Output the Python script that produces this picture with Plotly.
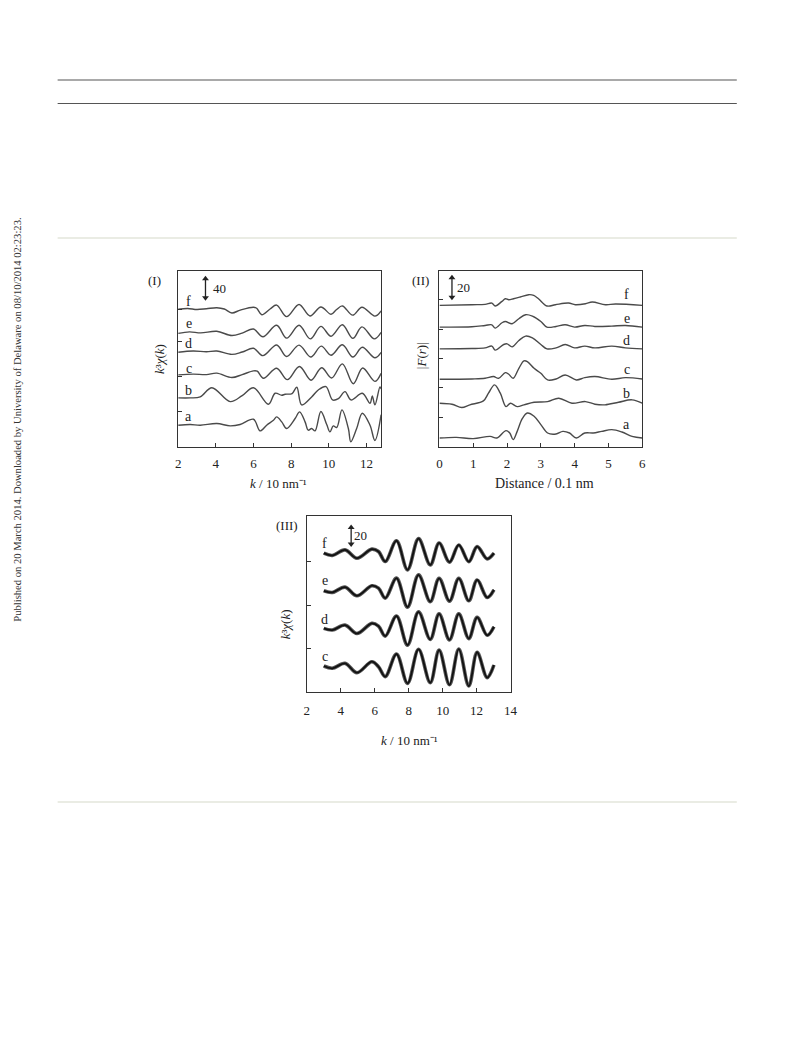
import plotly.graph_objects as go

SERIF = "Liberation Serif"

# ---------------- Panel (I): k^3 chi(k) vs k (offset curves) ----------------
I_f_k = [2.0, 2.5, 3.0, 3.5, 4.05, 4.45, 4.85, 5.3, 6.0, 6.17, 6.44, 6.88, 7.23, 7.76, 8.42, 9.0, 9.58, 10.12, 10.4, 10.72, 11.27, 11.76, 12.45, 12.78]
I_f_y = [0, 1.5, -0.5, 1.0, 3.0, 0.5, -7.0, -1.5, 4.0, 2.0, -10.5, 0.5, 8.0, -14.0, 9.2, -12.7, 4.5, -9.5, -1.0, 6.4, -11.2, 4.0, -13.0, -3.0]
I_e_k = [2.0, 2.6, 3.2, 4.05, 4.85, 5.4, 6.0, 6.5, 7.23, 7.76, 8.42, 9.02, 9.58, 10.12, 10.72, 11.28, 11.76, 12.42, 12.78]
I_e_y = [0, 3.0, 1.0, 4.0, -4.0, 0.5, 8.3, -6.5, 15.5, -9.0, 15.5, -10.5, 13.5, -5.5, 16.5, -9.5, 12.5, -10.5, 2.0]
I_d_k = [2.0, 2.8, 3.5, 4.05, 4.85, 5.4, 6.0, 6.5, 7.23, 7.76, 8.42, 9.04, 9.6, 10.12, 10.72, 11.28, 11.78, 12.45, 12.78]
I_d_y = [0, 2.5, 1.0, 2.5, -4.0, 0.5, 7.6, -6.4, 14.0, -8.0, 13.7, -9.0, 11.7, -5.5, 14.3, -9.0, 9.5, -10.5, 0]
I_c_k = [2.0, 2.8, 3.5, 4.05, 4.85, 5.4, 6.0, 6.2, 6.53, 7.23, 7.8, 8.44, 9.06, 9.62, 10.15, 10.72, 11.3, 11.8, 12.45, 12.78]
I_c_y = [0, 1.3, 0.5, 3.2, -5.1, 0.5, 7.6, 7.0, -6.4, 12.7, -9.2, 16.0, -10.2, 13.5, -6.0, 21.0, -17.0, 13.0, -12.5, 3.0]
I_b_k = [2.0, 2.64, 3.17, 3.79, 4.76, 5.4, 6.0, 6.79, 7.15, 7.5, 7.68, 8.05, 8.3, 8.56, 9.09, 9.44, 9.85, 10.2, 10.51, 10.86, 11.18, 11.78, 12.19, 12.31, 12.45, 12.72, 12.78]
I_b_y = [0, 0, 1.9, 19.5, -7.0, 4.5, 19.5, -12.0, 8.9, 5.1, 7.0, 8.3, 20.3, -13.3, 1.9, 15.2, 21.6, -3.8, -1.3, 12.1, -3.8, 8.9, -10.2, 3.8, -13.3, 21.0, 17.0]
I_a_k = [2.0, 2.64, 3.17, 4.05, 4.76, 5.29, 6.0, 6.35, 6.7, 7.06, 7.23, 7.5, 7.76, 8.21, 8.45, 8.74, 8.91, 9.09, 9.27, 9.58, 9.89, 10.06, 10.24, 10.42, 10.7, 11.04, 11.17, 11.48, 11.78, 12.19, 12.45, 12.78]
I_a_y = [0, 1.3, 0, 3.2, -1.3, 1.3, 11.4, -10.8, 0, 9.5, 15.9, 6.4, -6.4, 12.7, 25.4, 6.4, -9.5, -6.4, -10.8, 26.0, 1.3, -12.7, -1.3, -4.4, 29.2, -6.4, -31.8, -6.4, 22.9, 0, -29.2, 20.0]
I_names = ["f", "e", "d", "c", "b", "a"]
I_offsets = [262, 216, 180, 137, 93, 41]
I_label_y = [276, 234, 196, 149, 107, 57]
I_yticks = [68, 134, 201, 262]

# ---------------- Panel (II): |F(r)| vs distance ----------------
II_f_r = [0, 0.96, 1.35, 1.55, 1.65, 1.85, 1.95, 2.05, 2.19, 2.39, 2.64, 2.79, 2.93, 3.18, 3.43, 3.82, 4.02, 4.32, 4.52, 4.91, 5.21, 6.0]
II_f_y = [0, 0.6, 0.9, 2.1, -0.6, 3.7, 6.1, 5.2, 6.1, 7.7, 9.8, 9.2, 6.1, -0.6, 0.6, 2.1, 0.6, 1.5, 3.1, 0.6, 1.2, 0]
II_e_r = [0, 0.96, 1.35, 1.55, 1.65, 1.85, 1.95, 2.15, 2.35, 2.55, 2.75, 3.0, 3.18, 3.45, 3.72, 4.0, 4.3, 4.6, 5.1, 5.5, 6.0]
II_e_y = [0, 0.3, 1.5, 2.1, -0.9, 4.0, 5.2, 3.1, 7.7, 11.4, 10.1, 5.2, 0, 0.6, 2.1, 0, 1.5, 0.6, 0.9, 1.5, 0]
II_d_r = [0, 0.96, 1.35, 1.55, 1.65, 1.9, 2.0, 2.15, 2.35, 2.55, 2.75, 3.0, 3.18, 3.45, 3.72, 4.0, 4.3, 4.6, 5.1, 5.5, 6.0]
II_d_y = [0, 0.3, 0.9, 2.5, -1.2, 4.0, 4.6, 1.8, 7.7, 11.7, 10.1, 4.0, 0, 0.9, 4.0, 0.9, 2.5, 0.9, 2.5, 0.9, 0]
II_c_r = [0, 0.96, 1.35, 1.6, 1.75, 1.95, 2.05, 2.18, 2.35, 2.5, 2.6, 2.8, 3.0, 3.2, 3.45, 3.72, 4.05, 4.3, 4.6, 5.1, 5.5, 6.0]
II_c_y = [0, 0.3, 0.9, 2.5, 0.9, 6.1, 4.6, 0.9, 10.1, 16.9, 16.3, 10.1, 5.5, -0.6, 0.3, 4.0, -0.6, 1.5, 2.5, 0, 1.5, 0.3]
II_b_r = [0, 0.37, 0.66, 0.9, 1.3, 1.45, 1.63, 1.8, 1.97, 2.1, 2.3, 2.5, 2.8, 3.2, 3.53, 3.92, 4.32, 4.6, 4.9, 5.3, 5.7, 6.0]
II_b_y = [0, -0.9, -4.0, -1.5, 2.1, 9.2, 16.9, 9.2, -3.1, 0, -3.1, -1.5, 0.9, 1.5, 4.6, 0, 1.5, -0.9, -1.5, 0.9, 3.1, 0]
II_a_r = [0, 0.5, 1.0, 1.5, 1.7, 1.97, 2.08, 2.18, 2.3, 2.45, 2.6, 2.8, 3.0, 3.2, 3.45, 3.65, 3.85, 4.05, 4.3, 4.55, 4.8, 5.1, 5.4, 5.7, 6.0]
II_a_y = [0, 0.6, -0.6, 1.5, 0, 6.8, 4.6, -1.5, 6.1, 17.8, 23.0, 20.0, 12.3, 4.6, 3.7, 6.1, 4.6, 0, 4.6, 4.6, 6.1, 7.7, 5.5, 1.5, 0]
II_names = ["f", "e", "d", "c", "b", "a"]
II_offsets = [130, 110, 90, 62, 40, 8]
II_label_y = [140, 118, 98, 71, 49, 20]
II_yticks = [27, 54, 81, 108, 135]

# ---------------- Panel (III): k^3 chi(k) fits ----------------
III_k = [3.0, 3.5, 4.25, 4.95, 5.83, 6.22, 6.62, 7.28, 7.93, 8.58, 9.27, 9.79, 10.40, 10.95, 11.54, 12.03, 12.62, 13.02]
III_f_y = [0, -2.5, 3.6, -5.5, 4.4, 1.8, -9.1, 13.5, -18.2, 15.8, -12.9, 11.1, -9.8, 8.9, -9.3, 7.1, -6.2, 0]
III_e_y = [0, -1.8, 4.0, -5.5, 5.5, 2.9, -8.0, 13.8, -17.8, 17.3, -11.8, 13.6, -11.3, 13.6, -10.9, 11.8, -7.3, 1.1]
III_d_y = [0, -1.8, 3.6, -5.5, 5.5, 2.5, -8.4, 13.5, -18.2, 18.0, -12.0, 15.8, -12.5, 15.8, -11.1, 12.0, -7.5, 1.8]
III_c_y = [0, -2.5, 2.9, -7.3, 4.7, -0.7, -11.6, 13.1, -18.9, 18.2, -18.2, 17.3, -20.5, 18.5, -21.8, 15.0, -12.7, 1.1]
III_names = ["f", "e", "d", "c"]
III_offsets = [151, 110, 69, 28]
III_label_y = [162, 121, 79, 38]
III_yticks = [47, 94.5, 142]

fig = go.Figure()

def add_curves(xs_list, ys_list, offsets, xa, ya, color, width, under=None):
    for xs, ys, off in zip(xs_list, ys_list, offsets):
        yy = [v + off for v in ys]
        if under:
            fig.add_trace(go.Scatter(x=xs, y=yy, mode="lines", xaxis=xa, yaxis=ya,
                                     line=dict(color=under[0], width=under[1], shape="spline", smoothing=1.0),
                                     hoverinfo="skip", showlegend=False))
        fig.add_trace(go.Scatter(x=xs, y=yy, mode="lines", xaxis=xa, yaxis=ya,
                                 line=dict(color=color, width=width, shape="spline", smoothing=1.0),
                                 showlegend=False))

add_curves([I_f_k, I_e_k, I_d_k, I_c_k, I_b_k, I_a_k],
           [I_f_y, I_e_y, I_d_y, I_c_y, I_b_y, I_a_y], I_offsets, "x", "y", "#4a4a4a", 1.4)
add_curves([II_f_r, II_e_r, II_d_r, II_c_r, II_b_r, II_a_r],
           [II_f_y, II_e_y, II_d_y, II_c_y, II_b_y, II_a_y], II_offsets, "x2", "y2", "#4a4a4a", 1.4)
add_curves([III_k] * 4, [III_f_y, III_e_y, III_d_y, III_c_y], III_offsets, "x3", "y3",
           "#111111", 1.8, under=("#555555", 3.6))

# scale bars (double-headed arrows) drawn as small traces
def scalebar(x, y0, y1, xa, ya):
    fig.add_trace(go.Scatter(x=[x, x], y=[y0, y1], mode="lines+markers", xaxis=xa, yaxis=ya,
                             line=dict(color="#222222", width=1.3),
                             marker=dict(symbol=["triangle-down", "triangle-up"], size=6, color="#222222"),
                             hoverinfo="skip", showlegend=False))
scalebar(3.45, 284, 320, "x", "y")
scalebar(0.37, 137.5, 155.5, "x2", "y2")
scalebar(4.61, 161, 179, "x3", "y3")

def axis(domain, rng, anchor, **kw):
    d = dict(domain=domain, range=rng, anchor=anchor, showline=True, mirror=True,
             linecolor="#333333", linewidth=1.2, ticks="inside", ticklen=4, tickwidth=1,
             tickcolor="#333333", showgrid=False, zeroline=False, fixedrange=True,
             tickfont=dict(family=SERIF, size=13, color="#222222"))
    d.update(kw)
    return d

W, H = 793, 1039
# horizontal calibration of the photographed page (measured: x_photo ~= 0.9886 * x_css + 2.3)
def px(xp): return ((xp - 2.3) / 0.9886) / W
def py(yp): return 1 - yp / H

fig.update_layout(
    width=W, height=H, autosize=False, margin=dict(l=0, r=0, t=0, b=0),
    paper_bgcolor="white", plot_bgcolor="white", showlegend=False,
    xaxis=axis([px(177.7), px(380.7)], [2, 12.77], "y", tickvals=[2, 4, 6, 8, 10, 12], ticklabelstandoff=4),
    yaxis=axis([py(446.7), py(271)], [0, 335], "x", tickvals=I_yticks, showticklabels=False),
    xaxis2=axis([px(439.3), px(642.3)], [0, 6], "y2", tickvals=[0, 1, 2, 3, 4, 5, 6], ticklabelstandoff=4),
    yaxis2=axis([py(446.7), py(271)], [0, 161.6], "x2", tickvals=II_yticks, showticklabels=False),
    xaxis3=axis([px(306.5), px(510.5)], [2, 14], "y3", tickvals=[2, 4, 6, 8, 10, 12, 14], ticklabelstandoff=6),
    yaxis3=axis([py(691.7), py(516)], [0, 191.5], "x3", tickvals=III_yticks, showticklabels=False),
)

ann = []
def text(x, y, t, size=13, xref="paper", yref="paper", angle=0, xanchor="center", color="#222222"):
    ann.append(dict(x=x, y=y, xref=xref, yref=yref, text=t, showarrow=False, textangle=angle,
                    xanchor=xanchor, yanchor="middle",
                    font=dict(family=SERIF, size=size, color=color)))

# curve labels
for n, ly in zip(I_names, I_label_y):
    text(2.57, ly, n, 14, "x", "y")
for n, ly in zip(II_names, II_label_y):
    text(5.54, ly, n, 14, "x2", "y2")
for n, ly in zip(III_names, III_label_y):
    text(3.07, ly, n, 14, "x3", "y3")

# panel titles
text(px(154), py(280), "(I)", 13)
text(px(420), py(280), "(II)", 13)
text(px(287), py(525), "(III)", 13)

# axis titles
text(px(278.5), py(483.5), "<i>k</i> / 10 nm⁻¹", 13)
text(px(159.5), py(359), "<i>k</i>³<i>χ</i>(<i>k</i>)", 13, angle=-90)
text(px(544), py(483.5), "Distance / 0.1 nm", 14)
text(px(421), py(356), "|<i>F</i>(<i>r</i>)|", 13, angle=-90)
text(px(409), py(740), "<i>k</i> / 10 nm⁻¹", 13)
text(px(285), py(624), "<i>k</i>³<i>χ</i>(<i>k</i>)", 13, angle=-90)

# scale bar values
text(3.75, 302, "40", 13, "x", "y", xanchor="left")
text(0.45, 146.5, "20", 13, "x2", "y2", xanchor="left")
text(4.68, 170, "20", 13, "x3", "y3", xanchor="left")

# side note
text(px(16), py(420), "Published on 20 March 2014. Downloaded by University of Delaware on 08/10/2014 02:23:23.",
     10.6, angle=-90, color="#333333")

fig.update_layout(annotations=ann)

# page rules
shapes = []
for yy, col in [(80, "#555555"), (103.5, "#555555"), (238, "#d6d9c9"), (802, "#d6d9c9")]:
    shapes.append(dict(type="line", xref="paper", yref="paper", x0=px(57), x1=px(737),
                       y0=py(yy), y1=py(yy), line=dict(color=col, width=1.2)))
fig.update_layout(shapes=shapes)

fig.write_html(
    "out.html",
    config={"responsive": False, "displayModeBar": False, "staticPlot": True},
    post_script=(
        "var h=document.documentElement,b=document.body;"
        "h.style.margin='0';h.style.padding='0';h.style.overflow='hidden';"
        "b.style.margin='0';b.style.padding='0';b.style.overflow='hidden';b.style.width='793px';"
    ),
)
